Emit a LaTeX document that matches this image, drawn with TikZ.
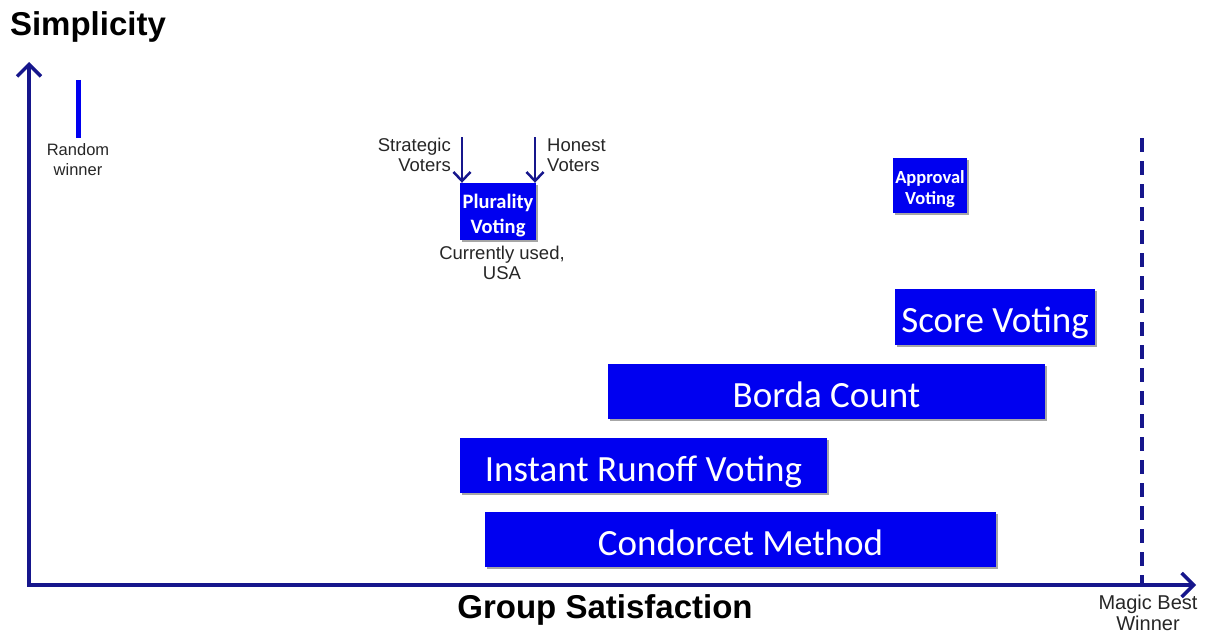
\documentclass[tikz,border=0pt]{standalone}
\usepackage{fontspec}
\setmainfont{Liberation Sans}
\newfontfamily\calfont{Carlito}
\usetikzlibrary{arrows.meta,shadows}
\definecolor{axisblue}{RGB}{22,22,140}
\definecolor{boxblue}{RGB}{0,0,240}
\begin{document}
\begin{tikzpicture}[x=1pt,y=-1pt,
  axis/.style={draw=axisblue,line width=3.5pt,line join=miter,
    {Straight Barb[length=12pt,width=24pt,line width=3.5pt]}-{Straight Barb[length=12pt,width=24pt,line width=3.5pt]}},
  voterarrow/.style={draw=axisblue,line width=2.5pt,-{Straight Barb[length=9pt,width=17pt,line width=2.5pt]}},
  shade/.style={drop shadow={shadow xshift=2pt,shadow yshift=-2pt,fill=black,opacity=0.35}},
  bigbox/.style={fill=boxblue,text=white,inner sep=0pt,minimum height=55pt,
    text height=33pt,text depth=2pt,
    font=\calfont\fontsize{37}{40}\selectfont,shade},
  smallbox/.style={fill=boxblue,inner sep=0pt,shade},
  boxtext/.style={text=white,inner sep=0pt,align=center,yshift=-4pt},
  lbl/.style={text=black!85,inner sep=0pt,align=center},
  title/.style={text=black,inner sep=0pt,font=\bfseries\fontsize{33}{38}\selectfont},
]
\useasboundingbox (0,0) rectangle (1213,634);

% axes
\coordinate (ytip) at (29,62);
\coordinate (origin) at (29,585);
\coordinate (xtip) at (1196,585);
\draw[axis] (ytip) -- (origin) -- (xtip);

\node[title] (simp) at (88,27) {Simplicity};
\node[title] (grp) at (605,610) {Group Satisfaction};

% magic best winner
\coordinate (mtop) at (1142,138);
\coordinate (mbot) at (1142,585);
\draw[draw=axisblue,line width=4pt,dash pattern=on 14pt off 9pt] (mtop) -- (mbot);
\node[lbl,anchor=north,font=\fontsize{20}{21}\selectfont] (magic) at (1148,595) {Magic Best\\Winner};

% random winner
\coordinate (rtop) at (78,80);
\coordinate (rbot) at (78,138);
\draw[draw=boxblue,line width=5pt] (rtop) -- (rbot);
\node[lbl,font=\fontsize{16.5}{20}\selectfont] (rand) at (78,160) {Random\\winner};

% plurality
\node[smallbox,minimum width=76pt,minimum height=57pt] (plur) at (498,211.5) {};
\node[boxtext,font=\calfont\bfseries\fontsize{20.5}{25}\selectfont] (plurtext) at (plur.center) {Plurality\\Voting};
\coordinate (sv) at (462,137);
\coordinate (hv) at (535,137);
\draw[voterarrow] (sv) -- (sv |- plur.north);
\draw[voterarrow] (hv) -- (hv |- plur.north);
\node[lbl,anchor=east,align=right,font=\fontsize{18.5}{20}\selectfont] (strat) at (451,155) {Strategic\\Voters};
\node[lbl,anchor=west,align=left,font=\fontsize{18.5}{20}\selectfont] (hon) at (547,155) {Honest\\Voters};
\node[lbl,font=\fontsize{18.5}{20}\selectfont] (curr) at (502,263) {Currently used,\\USA};

% approval
\node[smallbox,minimum width=74pt,minimum height=55pt] (appr) at (930,185.5) {};
\node[boxtext,font=\calfont\bfseries\fontsize{18.5}{21}\selectfont] (apprtext) at (appr.center) {Approval\\Voting};

% big boxes
\node[bigbox,minimum width=200pt,minimum height=56pt] (score) at (995,317) {Score Voting};
\node[bigbox,minimum width=437pt] (borda) at (826.5,391.5) {Borda Count};
\node[bigbox,minimum width=367pt] (irv) at (643.5,465.5) {Instant Runoff Voting};
\node[bigbox,minimum width=511pt] (cond) at (740.5,539.5) {Condorcet Method};
\end{tikzpicture}
\end{document}
